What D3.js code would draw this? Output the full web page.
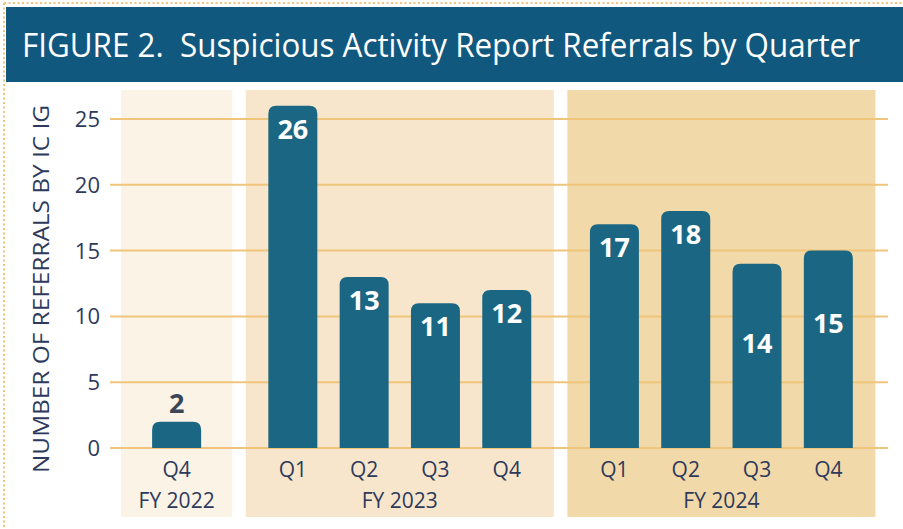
<!DOCTYPE html>
<html>
<head>
<meta charset="utf-8">
<script src="https://cdn.jsdelivr.net/npm/d3@7"></script>
<style>
  body { margin: 0; background: #fff; }
  svg { display: block; }
  .tick-label, .cat-label, .fy-label, .axis-title { fill: #2e3a5c; font-family: "Open Sans", sans-serif; }
  .value-label { font-family: "Open Sans", sans-serif; font-weight: 700; }
</style>
</head>
<body>
<svg id="chart" width="903" height="529"></svg>
<script>
// data
var fiscalYears = ["FY 2022", "FY 2023", "FY 2024"];
var quarters = [["Q4"], ["Q1", "Q2", "Q3", "Q4"], ["Q1", "Q2", "Q3", "Q4"]];
var referrals = [[2], [26, 13, 11, 12], [17, 18, 14, 15]];
var yTicks = [0, 5, 10, 15, 20, 25];

var titleText = "FIGURE 2.  Suspicious Activity Report Referrals by Quarter";
var yTitle = "NUMBER OF REFERRALS BY IC IG";

var panelColors = ["#fbf3e6", "#f7e6cb", "#f2d9a9"];
var barColor = "#1b6783";

var svg = d3.select("#chart");

// dotted frame
svg.append("line")
    .attr("x1", 4).attr("x2", 903).attr("y1", 3).attr("y2", 3)
    .attr("stroke", "#f0c27a").attr("stroke-width", 2).attr("stroke-dasharray", "2,2.5");
svg.append("line")
    .attr("x1", 4).attr("x2", 4).attr("y1", 3).attr("y2", 529)
    .attr("stroke", "#f0c27a").attr("stroke-width", 2).attr("stroke-dasharray", "2,2.5");

// title banner
svg.append("rect")
    .attr("x", 6).attr("y", 7).attr("width", 897).attr("height", 75)
    .attr("fill", "#11587f");
svg.append("text")
    .attr("x", 22).attr("y", 57)
    .attr("fill", "#fff")
    .style("font-family", "'Open Sans', sans-serif")
    .style("font-size", "33px")
    .style("white-space", "pre")
    .attr("textLength", 838).attr("lengthAdjust", "spacingAndGlyphs")
    .text(titleText);

// layout in "slot" units: each panel is padded, FY2022 panel is a bit wider than one slot
var panelPad = 0.16, panelGap = 0.19, minSlots = 1.24;
var layout = [];
var bars = [];
var cursor = 0;
fiscalYears.forEach(function(fy, g) {
    var n = quarters[g].length;
    var w = Math.max(n, minSlots) + 2 * panelPad;
    var first = cursor + w / 2 - n / 2 + 0.5;
    layout.push({fy: fy, x0: cursor, x1: cursor + w, g: g});
    quarters[g].forEach(function(q, i) {
        bars.push({fy: fy, g: g, q: q, value: referrals[g][i], pos: first + i});
    });
    cursor += w + panelGap;
});
var totalSlots = cursor - panelGap;

var xScale = d3.scaleLinear().domain([0, totalSlots]).range([121, 875.4]);
var yScale = d3.scaleLinear().domain([0, 25]).range([448, 119]);
var barW = 49;

// panels
svg.append("g").selectAll("rect")
    .data(layout)
    .enter().append("rect")
    .attr("x", d => xScale(d.x0))
    .attr("width", d => xScale(d.x1) - xScale(d.x0))
    .attr("y", 90).attr("height", 427)
    .attr("fill", d => panelColors[d.g]);

// gridlines
svg.append("g").selectAll("line")
    .data(yTicks)
    .enter().append("line")
    .attr("x1", 110).attr("x2", 888)
    .attr("y1", d => yScale(d)).attr("y2", d => yScale(d))
    .attr("stroke", "#efc57c").attr("stroke-width", 2);

// y tick labels
svg.append("g").selectAll("text")
    .data(yTicks)
    .enter().append("text")
    .attr("class", "tick-label")
    .attr("x", 100).attr("y", d => yScale(d))
    .attr("dy", "0.36em")
    .attr("text-anchor", "end")
    .style("font-size", "22px")
    .text(d => d);

// y axis title
svg.append("text")
    .attr("class", "axis-title")
    .attr("transform", "translate(49,289) rotate(-90)")
    .attr("text-anchor", "middle")
    .attr("textLength", 368).attr("lengthAdjust", "spacingAndGlyphs")
    .style("font-size", "21px")
    .text(yTitle);

// bars with rounded tops
function barPath(d) {
    var cx = xScale(d.pos), x0 = cx - barW / 2, x1 = cx + barW / 2;
    var y0 = yScale(0), y1 = yScale(d.value), r = 8;
    return "M" + x0 + "," + y0 +
        "V" + (y1 + r) +
        "Q" + x0 + "," + y1 + " " + (x0 + r) + "," + y1 +
        "H" + (x1 - r) +
        "Q" + x1 + "," + y1 + " " + x1 + "," + (y1 + r) +
        "V" + y0 + "Z";
}
svg.append("g").selectAll("path")
    .data(bars)
    .enter().append("path")
    .attr("d", barPath)
    .attr("fill", barColor);

// value labels: small bars get label above, a couple sit lower in the bar
var labelDrop = {"FY 2024 Q3": 89, "FY 2024 Q4": 82};
svg.append("g").selectAll("text")
    .data(bars)
    .enter().append("text")
    .attr("class", "value-label")
    .attr("x", d => xScale(d.pos))
    .attr("y", function(d) {
        if (d.value < 5) return yScale(d.value) - 9;
        var k = d.fy + " " + d.q;
        return yScale(d.value) + (labelDrop[k] || 33);
    })
    .attr("text-anchor", "middle")
    .attr("fill", d => d.value < 5 ? "#3a4658" : "#fff")
    .style("font-size", "27px")
    .text(d => d.value);

// quarter labels
svg.append("g").selectAll("text")
    .data(bars)
    .enter().append("text")
    .attr("class", "cat-label")
    .attr("x", d => xScale(d.pos))
    .attr("y", 477)
    .attr("text-anchor", "middle")
    .style("font-size", "21px")
    .text(d => d.q);

// fiscal year labels
svg.append("g").selectAll("text")
    .data(layout)
    .enter().append("text")
    .attr("class", "fy-label")
    .attr("x", d => xScale((d.x0 + d.x1) / 2))
    .attr("y", 508)
    .attr("text-anchor", "middle")
    .style("font-size", "21px")
    .text(d => d.fy);
</script>
</body>
</html>
